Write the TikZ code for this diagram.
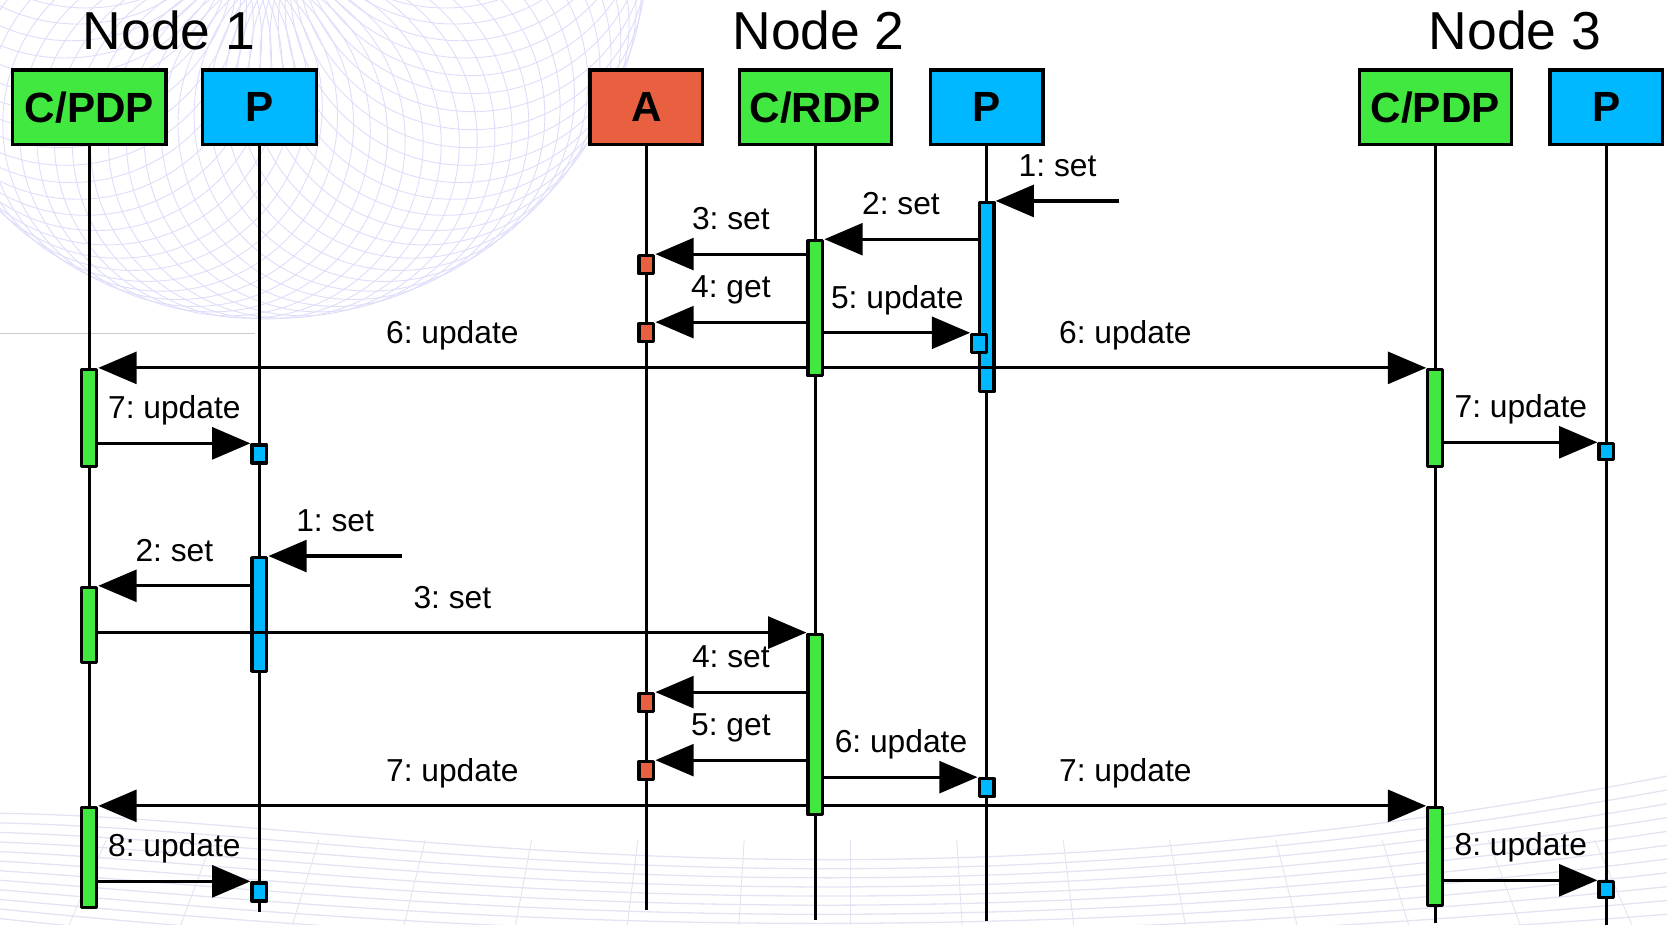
\documentclass[tikz,border=0pt]{standalone}
\usepackage{fontspec}
\setmainfont{Liberation Sans}
\frenchspacing
\usetikzlibrary{arrows.meta,calc}

\definecolor{cgreen}{RGB}{64,232,64}
\definecolor{pblue}{RGB}{0,184,255}
\definecolor{ared}{RGB}{232,96,64}
\definecolor{mesh}{RGB}{222,222,250}
\definecolor{floor}{RGB}{226,228,242}

\begin{document}
\begin{tikzpicture}[x=0.1mm, y=-0.1mm, >={Triangle[length=3.6mm,width=3mm]},
    head/.style={draw, line width=0.9pt, minimum height=7mm, inner sep=0pt,
                 font=\fontsize{11.3}{13}\selectfont\bfseries},
    title/.style={anchor=base, font=\fontsize{14.3}{16}\selectfont},
    life/.style={line width=0.85pt},
    act/.style={draw, line width=0.85pt, line join=round, anchor=north,
                minimum width=1.4mm, inner sep=0pt},
    tick/.style={act, minimum height=1.7mm},
    msg/.style={->, line width=0.85pt},
    lbl/.style={midway, anchor=base, yshift=2.3mm, font=\fontsize{8.5}{10}\selectfont}]
\useasboundingbox (0,0) rectangle (1568,870);

% background decoration
\begin{scope}
  \clip (0,0) rectangle (1568,870);
  \foreach \a in {0,5,...,355}
    \draw[mesh, line width=0.25pt] ($(250,-60)+(\a:195)$) circle (165);
  \foreach \i in {0,...,11}
    \draw[floor, line width=0.35pt] (0,765+\i*9) .. controls (350,770+\i*12) and (800,880+\i*4) .. (1568,730+\i*13);
  \foreach \i in {0,...,16}
    \draw[floor, line width=0.25pt] (\i*100,790) -- (\i*100-40+\i*5,870);
  \draw[gray!40, line width=0.3pt] (0,314) -- (240,314);
\end{scope}

% titles
\node[title] (n1) at (159,47) {Node 1};
\node[title] (n2) at (770,47) {Node 2};
\node[title] (n3) at (1425,47) {Node 3};

% lifeline heads
\node[head, fill=cgreen, minimum width=14.4mm] (c1) at (84,101) {C/PDP};
\node[head, fill=pblue, minimum width=10.7mm] (p1) at (244,101) {P};
\node[head, fill=ared, minimum width=10.6mm] (a2) at (608,101) {A};
\node[head, fill=cgreen, minimum width=14.3mm] (c2) at (767,101) {C/RDP};
\node[head, fill=pblue, minimum width=10.6mm] (p2) at (928,101) {P};
\node[head, fill=cgreen, minimum width=14.3mm] (c3) at (1350,101) {C/PDP};
\node[head, fill=pblue, minimum width=10.6mm] (p3) at (1511,101) {P};

\foreach \h/\e in {c1/852, p1/858, a2/856, c2/865, p2/866, c3/868, p3/870}
  \draw[life] (\h.south) -- (\h.south |- 0,\e);

% first round: set on node 2
\node[act, fill=pblue, minimum height=17.8mm] (p2bar) at (928,189) {};
\node[act, fill=cgreen, minimum height=12.7mm] (c2bar) at (767,225) {};
\node[tick, fill=ared] (asq1) at (608,239) {};
\node[tick, fill=ared] (asq2) at (608,303) {};
\node[tick, fill=pblue] (p2sq) at (921,313) {};
\node[act, fill=cgreen, minimum height=9.1mm] (c1bar) at (84,346) {};
\node[act, fill=cgreen, minimum height=9.1mm] (c3bar) at (1350,346) {};
\node[tick, fill=pblue] (p1sq) at (244,417) {};
\node[tick, fill=pblue, minimum height=1.5mm] (p3sq) at (1511,416) {};

\coordinate (in1) at (1053,189);
\draw[msg] (in1) -- (p2bar.north east) node[lbl] {1: set};
\draw[msg] (p2bar.west |- c2bar.north) -- (c2bar.north east) node[lbl] {2: set};
\draw[msg] (c2bar.west |- asq1.north) -- (asq1.north east) node[lbl] {3: set};
\draw[msg] (c2bar.west |- asq2.north) -- (asq2.north east) node[lbl] {4: get};
\draw[msg] (c2bar.east |- p2sq.north) -- (p2sq.north west) node[lbl] {5: update};
\draw[msg] (c2bar.west |- c1bar.north) -- (c1bar.north east) node[lbl] {6: update};
\draw[msg] (c2bar.east |- c3bar.north) -- (c3bar.north west) node[lbl] {6: update};
\draw[msg] (c1bar.east |- p1sq.north) -- (p1sq.north west) node[lbl] {7: update};
\draw[msg] (c3bar.east |- p3sq.north) -- (p3sq.north west) node[lbl] {7: update};

% second round: set on node 1
\node[act, fill=pblue, minimum height=10.7mm] (p1bar) at (244,523) {};
\node[act, fill=cgreen, minimum height=7.1mm] (c1bbar) at (84,551) {};
\node[act, fill=cgreen, minimum height=17mm] (c2bbar) at (767,595) {};
\node[tick, fill=ared] (asq3) at (608,651) {};
\node[tick, fill=ared] (asq4) at (608,715) {};
\node[tick, fill=pblue] (p2sq2) at (928,731) {};
\node[act, fill=cgreen, minimum height=9.4mm] (c1cbar) at (84,758) {};
\node[act, fill=cgreen, minimum height=9.2mm] (c3bbar) at (1350,758) {};
\node[tick, fill=pblue] (p1sq2) at (244,829) {};
\node[tick, fill=pblue, minimum height=1.5mm] (p3sq2) at (1511,828) {};

\coordinate (in2) at (378,523);
\draw[msg] (in2) -- (p1bar.north east) node[lbl] {1: set};
\draw[msg] (p1bar.west |- c1bbar.north) -- (c1bbar.north east) node[lbl] {2: set};
\draw[msg] (c1bbar.east |- c2bbar.north) -- (c2bbar.north west) node[lbl] {3: set};
\draw[msg] (c2bbar.west |- asq3.north) -- (asq3.north east) node[lbl] {4: set};
\draw[msg] (c2bbar.west |- asq4.north) -- (asq4.north east) node[lbl] {5: get};
\draw[msg] (c2bbar.east |- p2sq2.north) -- (p2sq2.north west) node[lbl] {6: update};
\draw[msg] (c2bbar.west |- c1cbar.north) -- (c1cbar.north east) node[lbl] {7: update};
\draw[msg] (c2bbar.east |- c3bbar.north) -- (c3bbar.north west) node[lbl] {7: update};
\draw[msg] (c1cbar.east |- p1sq2.north) -- (p1sq2.north west) node[lbl] {8: update};
\draw[msg] (c3bbar.east |- p3sq2.north) -- (p3sq2.north west) node[lbl] {8: update};
\end{tikzpicture}
\end{document}
